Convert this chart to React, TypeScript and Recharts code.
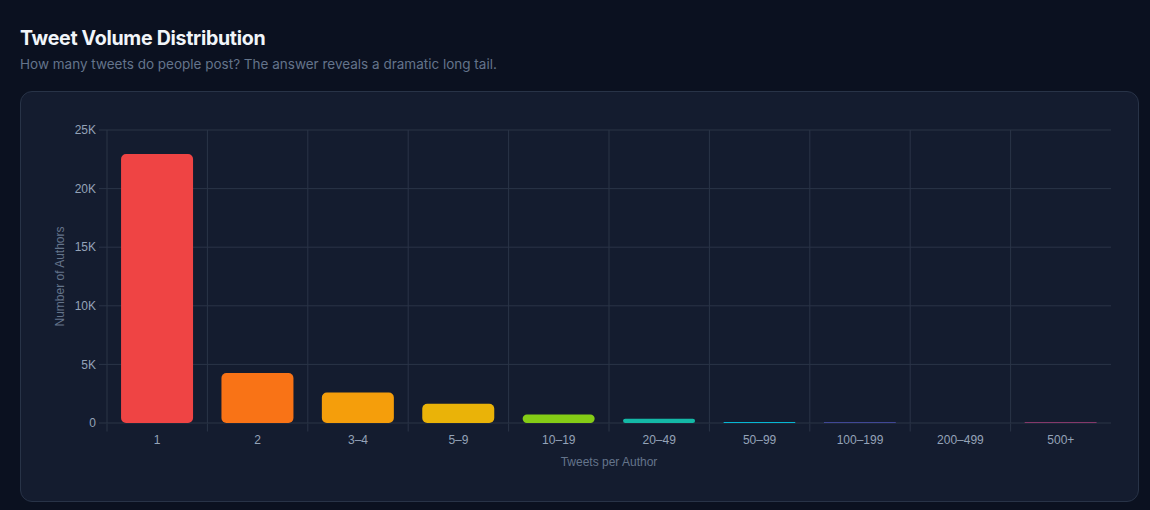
import React from "react";
import { BarChart, Bar, XAxis, YAxis, CartesianGrid, Cell } from "recharts";

// Authors bucketed by how many tweets they posted.
const BUCKETS = ["1", "2", "3–4", "5–9", "10–19", "20–49", "50–99", "100–199", "200–499", "500+"];
const AUTHORS = [22950, 4270, 2600, 1640, 720, 370, 80, 40, 5, 35];
const COLORS = [
  "#ef4444",
  "#f97316",
  "#f59e0b",
  "#eab308",
  "#84cc16",
  "#14b8a6",
  "#06b6d4",
  "#6366f1",
  "#a855f7",
  "#ec4899",
];
const Y_TICKS = [0, 5000, 10000, 15000, 20000, 25000];

const GRID = "#2a3447";
const TICK_TEXT = "#94a3b8";
const AXIS_TITLE = "#64748b";
const FONT = "'Liberation Sans', Arial, sans-serif";

const CHART_W = 1119;
const CHART_H = 411;
const MARGIN = { top: 39, right: 28, bottom: 0, left: 0 };
const Y_AXIS_W = 87;
const PLOT_W = CHART_W - MARGIN.left - MARGIN.right - Y_AXIS_W;
const BAND = PLOT_W / BUCKETS.length;

const data = BUCKETS.map((b, i) => ({ bucket: b, authors: AUTHORS[i] }));

const fmtK = (v: number) => (v === 0 ? "0" : `${v / 1000}K`);

// category label in the band centre, tick mark on the band's left edge
function XTick(props: any) {
  const { x, y, payload } = props;
  const axisY = y - 12;
  const left = x - BAND / 2;
  return (
    <g>
      <line x1={left} x2={left} y1={axisY} y2={axisY + 8} stroke={GRID} />
      <text x={x} y={y} dy="0.71em" textAnchor="middle" fill={TICK_TEXT} fontSize={12} fontFamily={FONT}>
        {payload.value}
      </text>
    </g>
  );
}

export default function App() {
  return (
    <div
      style={{
        position: "absolute",
        left: 0,
        top: 0,
        width: 1150,
        height: 510,
        background: "#0b1120",
        fontFamily: "Inter, 'Noto Sans', sans-serif",
        overflow: "hidden",
      }}
    >
      <div style={{ position: "absolute", left: 20, top: 26, fontSize: 19.6, fontWeight: 700, color: "#f1f5f9", letterSpacing: -0.3 }}>
        Tweet Volume Distribution
      </div>
      <div style={{ position: "absolute", left: 20, top: 56, fontSize: 13.5, color: "#64748b" }}>
        How many tweets do people post? The answer reveals a dramatic long tail.
      </div>
      <div
        style={{
          position: "absolute",
          left: 20,
          top: 91,
          width: CHART_W,
          height: CHART_H,
          boxSizing: "border-box",
          background: "#141c2f",
          border: "1px solid #283347",
          borderRadius: 12,
        }}
      />
      <div style={{ position: "absolute", left: 20, top: 91 }}>
        <BarChart width={CHART_W} height={CHART_H} data={data} margin={MARGIN} barCategoryGap="14%">
          <CartesianGrid
            stroke={GRID}
            verticalCoordinatesGenerator={({ offset }: any) =>
              BUCKETS.map((_, i) => offset.left + (i * offset.width) / BUCKETS.length)
            }
          />
          <XAxis
            dataKey="bucket"
            height={79}
            axisLine={false}
            tickLine={false}
            tickSize={8}
            tickMargin={4.5}
            interval={0}
            tick={<XTick />}
            label={{
              value: "Tweets per Author",
              position: "insideBottom",
              offset: 36,
              fill: AXIS_TITLE,
              fontSize: 12,
              fontFamily: FONT,
            }}
          />
          <YAxis
            width={Y_AXIS_W}
            domain={[0, 25000]}
            ticks={Y_TICKS}
            tickFormatter={fmtK}
            axisLine={false}
            tickLine={{ stroke: GRID }}
            tickSize={8}
            tickMargin={3}
            tick={{ fill: TICK_TEXT, fontSize: 12, fontFamily: FONT }}
            label={{
              value: "Number of Authors",
              angle: -90,
              position: "insideLeft",
              offset: 40,
              fill: AXIS_TITLE,
              fontSize: 12,
              fontFamily: FONT,
              style: { textAnchor: "middle" },
            }}
          />
          <Bar dataKey="authors" radius={[5, 5, 5, 5]} isAnimationActive={false}>
            {data.map((d, i) => (
              <Cell key={d.bucket} fill={COLORS[i]} />
            ))}
          </Bar>
        </BarChart>
      </div>
    </div>
  );
}
